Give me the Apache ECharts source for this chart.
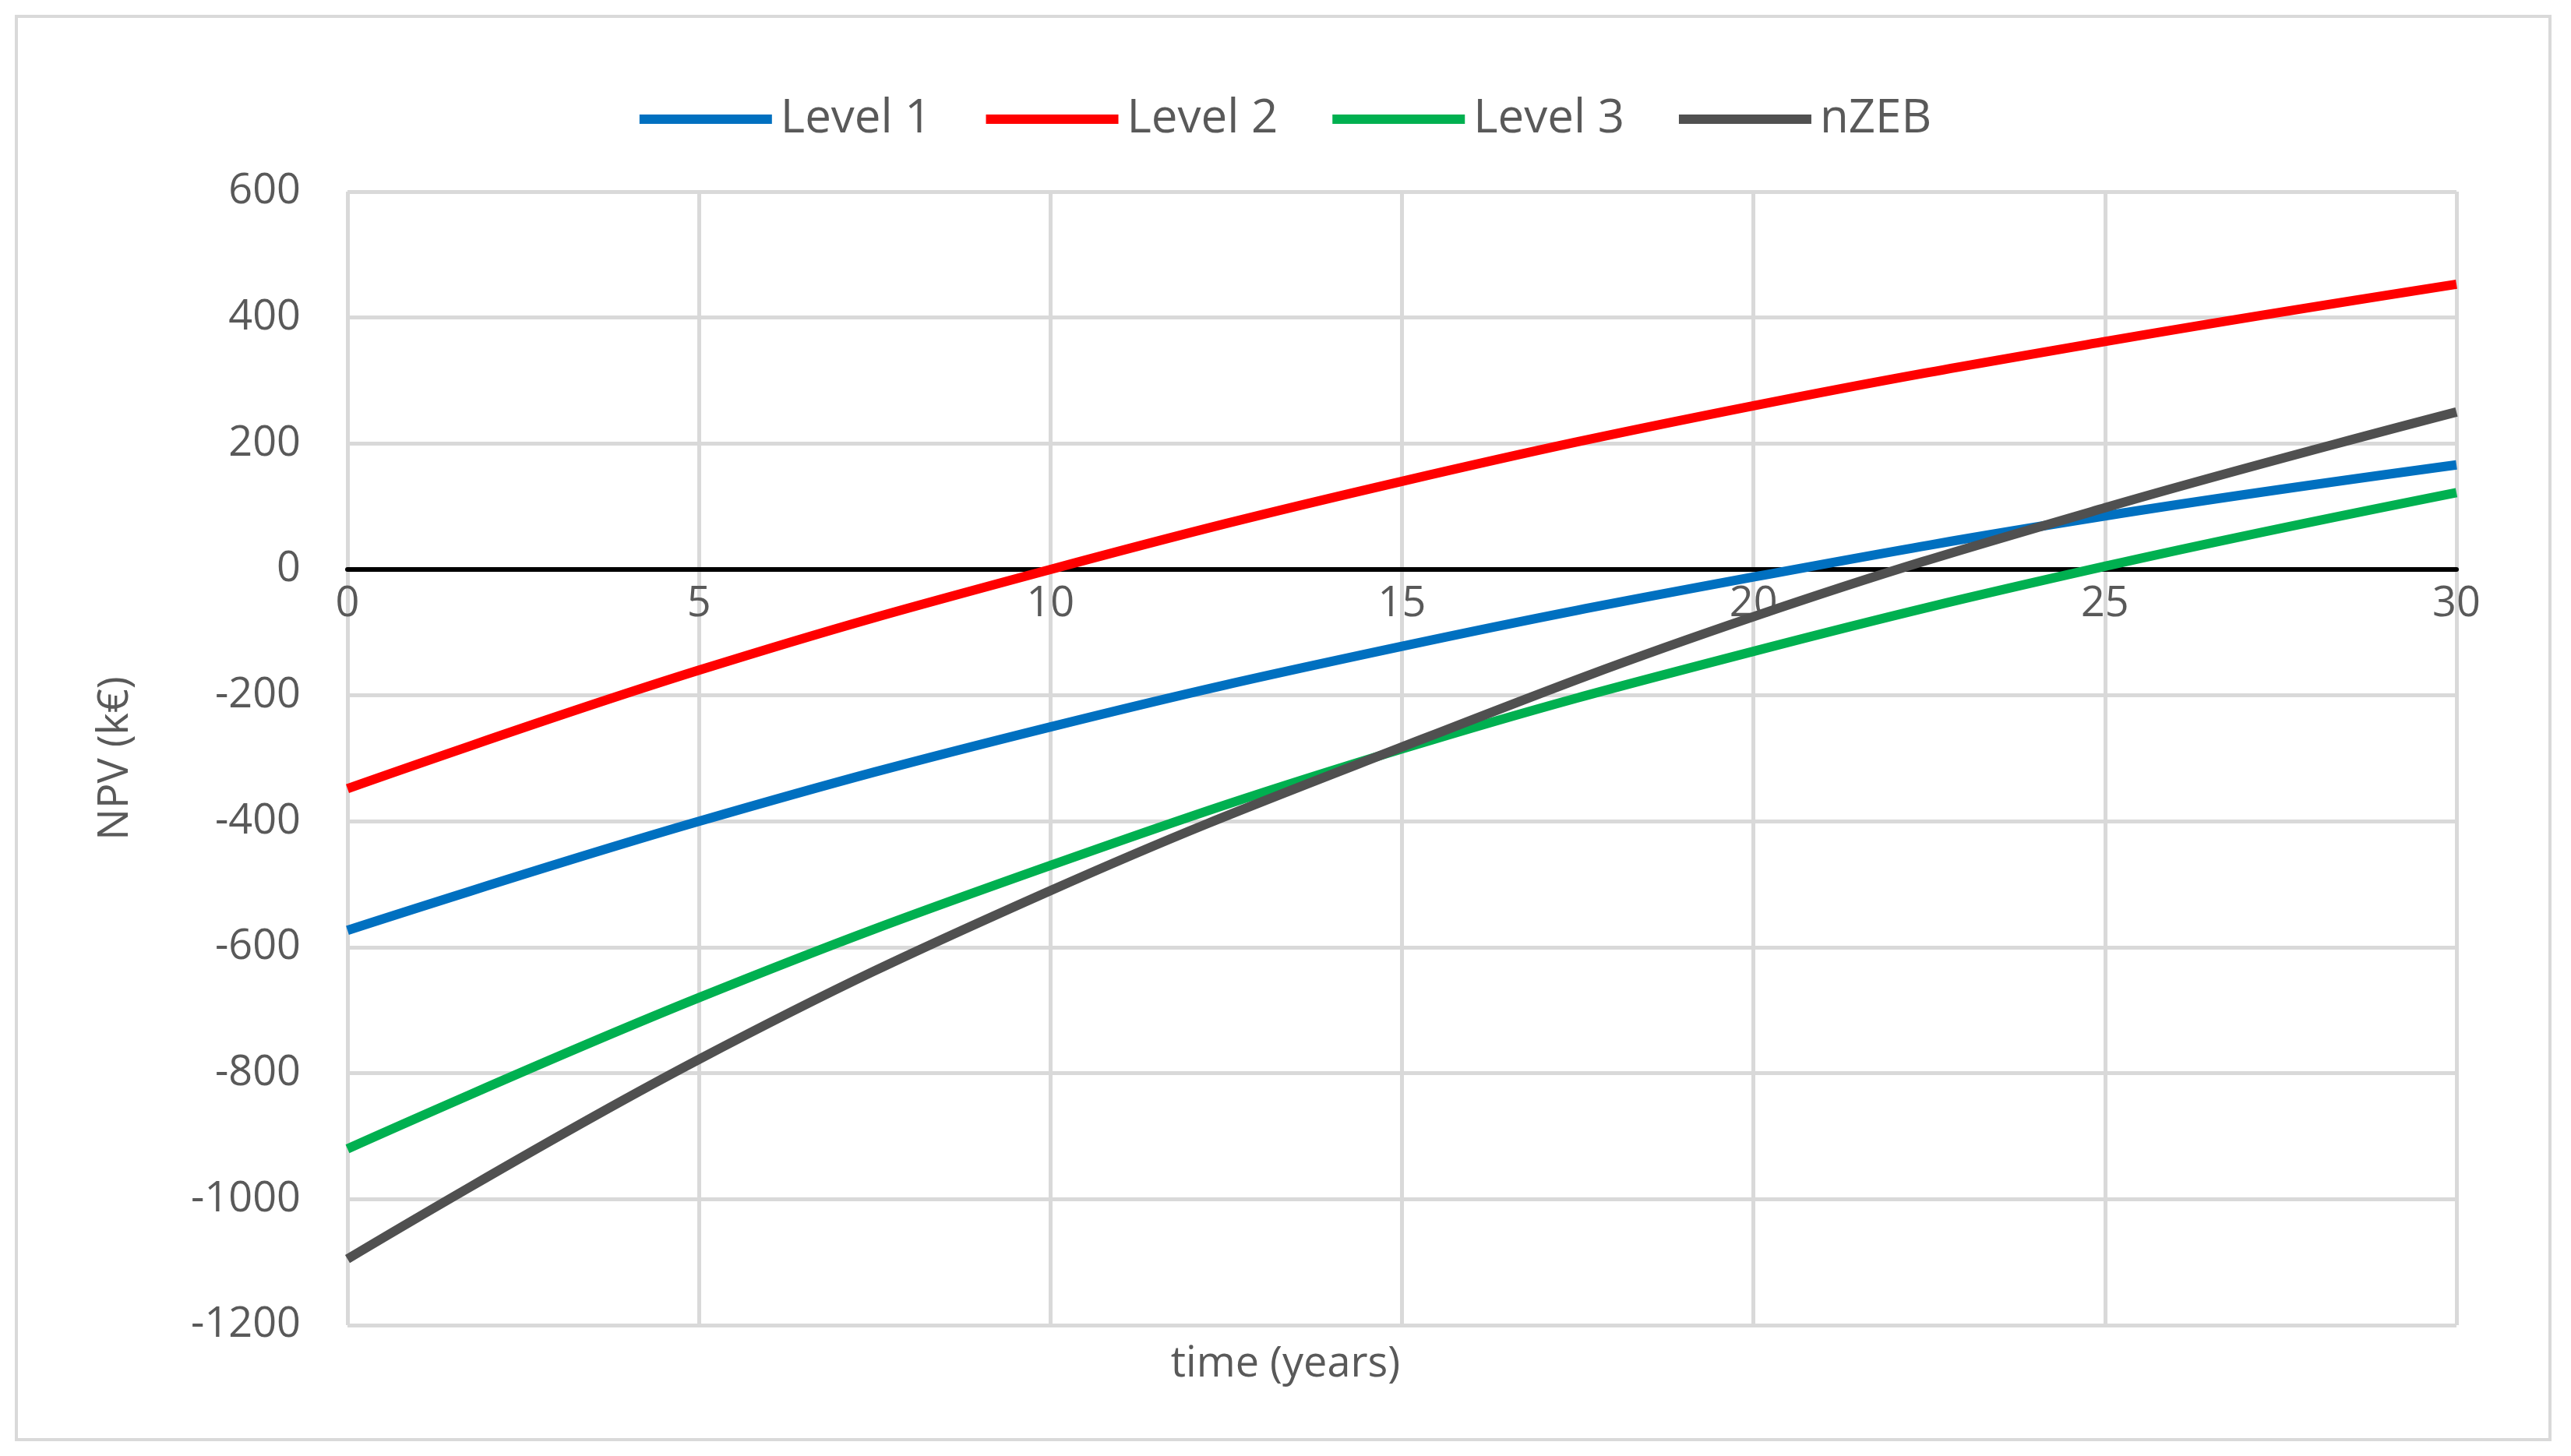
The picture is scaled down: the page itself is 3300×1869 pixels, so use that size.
<!DOCTYPE html>
<html><head><meta charset="utf-8">
<script src="https://cdn.jsdelivr.net/npm/echarts@6/dist/echarts.min.js"></script>
<style>html,body{margin:0;padding:0;background:#fff}#c{width:3300px;height:1869px}</style>
</head><body><div id="c"></div>
<script>
const years = [0, 5, 10, 15, 20, 25, 30];
const level1 = [-573, -400, -250, -122, -12, 85, 166];
const level2 = [-348, -160, 0, 140, 260, 362, 453];
const level3 = [-920, -680, -470, -285, -130, 5, 122];
const nzeb = [-1095, -778, -510, -282, -75, 98, 250];
const names = ['Level 1', 'Level 2', 'Level 3', 'nZEB'];
const colors = ['#0070C0', '#FF0000', '#00B050', '#505050'];
const all = [level1, level2, level3, nzeb];
const font = 'Open Sans';
const chart = echarts.init(document.getElementById('c'));
chart.setOption({
  animation: false,
  textStyle: {fontFamily: font},
  graphic: [
    {type: 'rect', shape: {x: 21, y: 21, width: 3252, height: 1827}, style: {fill: 'none', stroke: '#d9d9d9', lineWidth: 4}},
    {type: 'text', left: 'center', top: 1725, style: {text: 'time (years)', fontSize: 54, fill: '#595959', fontFamily: font}}
  ],
  legend: {
    top: 118, left: 'center', itemWidth: 170, itemHeight: 12, itemGap: 70,
    textStyle: {fontSize: 60, color: '#595959', fontFamily: font, padding: [0, 0, 0, 6]},
    icon: 'rect',
    data: names
  },
  grid: {left: 446, right: 147, top: 246, bottom: 168},
  xAxis: {
    type: 'value', min: 0, max: 30, interval: 5,
    offset: -970,
    axisLine: {onZero: false, lineStyle: {color: '#000', width: 6}},
    axisTick: {show: false},
    axisLabel: {fontSize: 54, color: '#595959', margin: 18, fontFamily: font},
    splitLine: {show: true, lineStyle: {color: '#d9d9d9', width: 5}}
  },
  yAxis: {
    type: 'value', min: -1200, max: 600, interval: 200,
    name: 'NPV (k€)', nameLocation: 'middle', nameGap: 270,
    nameTextStyle: {fontSize: 54, color: '#595959', fontFamily: font},
    axisLine: {show: false}, axisTick: {show: false},
    axisLabel: {fontSize: 54, color: '#595959', margin: 60, fontFamily: font, formatter: v => String(v)},
    splitLine: {lineStyle: {color: '#d9d9d9', width: 5}}
  },
  series: all.map((arr, i) => ({
    name: names[i], type: 'line', smooth: 0.4, symbol: 'none',
    color: colors[i],
    lineStyle: {width: 12, color: colors[i]},
    data: years.map((y, j) => [y, arr[j]])
  }))
});
</script></body></html>
